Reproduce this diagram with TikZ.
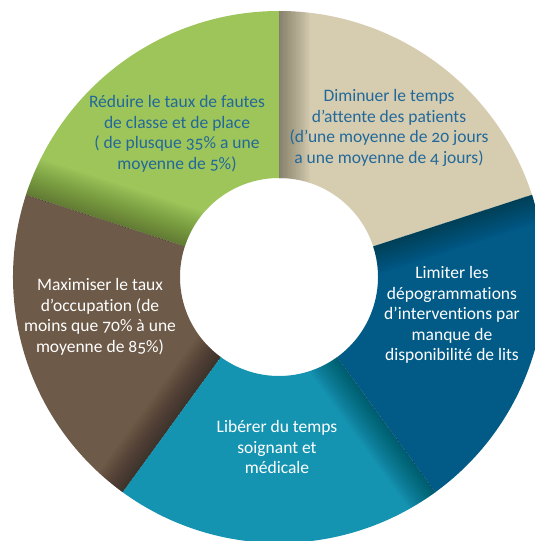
\documentclass[tikz,border=0pt]{standalone}
\usepackage{fontspec}
\setmainfont[Ligatures=NoCommon, Numbers=OldStyle]{Carlito}
\definecolor{greenseg}{HTML}{9DC55A}
\definecolor{beigeseg}{HTML}{D6CDB0}
\definecolor{blueseg}{HTML}{025B87}
\definecolor{tealseg}{HTML}{1594B1}
\definecolor{brownseg}{HTML}{6D5A48}
\definecolor{labelblue}{HTML}{22689A}
\def\rin{99pt}
\def\rout{266pt}
\def\segment[#1](#2:#3){\fill[#1] (#2:\rin) arc (#2:#3:\rin) -- (#3:\rout) arc (#3:#2:\rout) -- cycle;}
\def\edgeshade(#1:#2)[#3:#4]{%
  \begin{scope}
    \clip (#1:\rin) arc (#1:#2:\rin) -- (#2:\rout) arc (#2:#1:\rout) -- cycle;
    \foreach \k in {1,...,24}
      \fill[black, opacity=#4, rotate=#2] (0,0) rectangle (300,-\k*#3);
  \end{scope}}
\tikzset{
  goal/.style={align=center, font=\fontsize{17.5}{20.5}\selectfont},
  darkgoal/.style={goal, text=labelblue},
  lightgoal/.style={goal, text=white}
}

\begin{document}
\begin{tikzpicture}[x=1pt, y=1pt]
  \clip (0,0) rectangle (535,541);

  \begin{scope}[shift={(279,264)}]
    %%%%% SEGMENTS %%%%%
    \segment[beigeseg](18:90)
    \segment[greenseg](90:162)
    \segment[brownseg](162:234)
    \segment[tealseg](234:306)
    \segment[blueseg](306:378)

    %%%%% SHADOWS %%%%%
    \edgeshade(18:90)[1.3:0.015]
    \edgeshade(90:162)[1.6:0.015]
    \edgeshade(162:234)[1.3:0.017]
    \edgeshade(234:306)[1.3:0.017]
    \edgeshade(306:378)[1.2:0.01]
  \end{scope}

  %%%%% LABELS %%%%%
  \node[darkgoal] (reduire) at (177,407) {Réduire le taux de fautes\\de classe et de place\\( de plusque 35\% a une\\moyenne de 5\%)};
  \node[darkgoal] (diminuer) at (389,413) {Diminuer le temps\\d’attente des patients\\(d’une moyenne de 20 jours\\a une moyenne de 4 jours)};
  \node[lightgoal] (limiter) at (452,226) {Limiter les\\dépogrammations\\d’interventions par\\manque de\\disponibilité de lits};
  \node[lightgoal] (liberer) at (277,94) {Libérer du temps\\soignant et\\médicale};
  \node[lightgoal] (maximiser) at (100,224) {Maximiser le taux\\d’occupation (de\\moins que 70\% à une\\moyenne de 85\%)};
\end{tikzpicture}
\end{document}
